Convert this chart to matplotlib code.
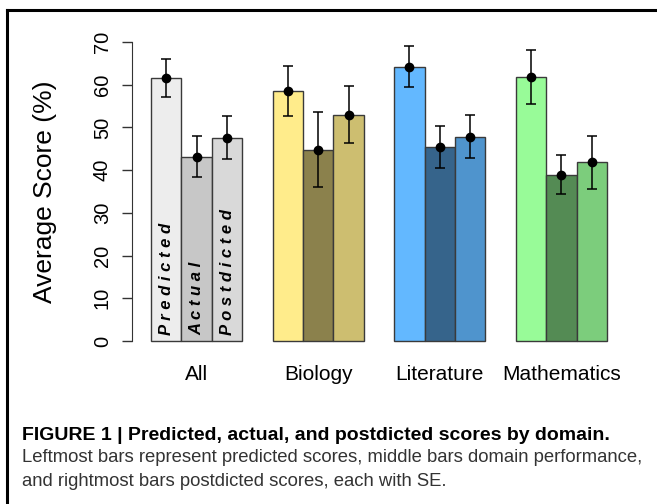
import matplotlib
matplotlib.use("Agg")
import matplotlib.pyplot as plt
from matplotlib.lines import Line2D
import numpy as np

plt.rcParams['font.family'] = ['Liberation Sans', 'DejaVu Sans']

# data
domains = ["All", "Biology", "Literature", "Mathematics"]
kinds = ["Predicted", "Actual", "Postdicted"]
means = [
    [61.6, 43.1, 47.6],   # All
    [58.5, 44.8, 53.0],   # Biology
    [64.2, 45.4, 47.8],   # Literature
    [61.9, 38.9, 41.8],   # Mathematics
]
ses = [
    [4.4, 4.8, 5.0],
    [5.9, 8.8, 6.7],
    [4.8, 4.9, 5.0],
    [6.3, 4.6, 6.1],
]
colors = [
    ["#EDEDED", "#C7C7C7", "#D9D9D9"],
    ["#FFEC8B", "#8B814C", "#CDBE70"],
    ["#63B8FF", "#36648B", "#4F94CD"],
    ["#98FB98", "#548B54", "#7CCD7C"],
]
yticks = [0, 10, 20, 30, 40, 50, 60, 70]

W, H = 657, 504
fig = plt.figure(figsize=(W / 100, H / 100), dpi=100)

def fx(px):
    return px / W

def fy(py):
    return 1 - py / H

# axes placed in pixels: y=0 at 341px, y=70 at 42px, bar unit = 30.4px
unit = 30.4
x0_px = 120.6
ax_left = 132
xmin = (ax_left - x0_px) / unit
xmax = 16.6
ax_w = (xmax - xmin) * unit
ax = fig.add_axes([fx(ax_left), fy(341), ax_w / W, (341 - 42) / H])
ax.set_xlim(xmin, xmax)
ax.set_ylim(0, 70)

for g in range(len(domains)):
    for i in range(3):
        left = 1 + 4 * g + i
        ax.bar(left, means[g][i], width=1, align="edge", color=colors[g][i],
               edgecolor="#3a3a3a", linewidth=1.0, clip_on=False)
        xc = left + 0.5
        ax.errorbar(xc, means[g][i], yerr=ses[g][i], fmt="o", color="black",
                    markersize=6, elinewidth=1.1, capsize=3.4, capthick=1.1,
                    clip_on=False)
    ax.text(1 + 4 * g + 1.5, -0.113, domains[g], transform=ax.get_xaxis_transform(),
            ha="center", va="center", fontsize=15)

# spaced labels inside the "All" bars
for i, k in enumerate(kinds):
    ax.text(1 + i + 0.5, 1.5, " ".join(k), rotation=90, ha="center", va="bottom",
            fontsize=12, fontweight="bold", fontstyle="italic", color="black")

for s in ["top", "right", "bottom"]:
    ax.spines[s].set_visible(False)
ax.spines["left"].set_bounds(0, 70)
ax.spines["left"].set_color("#333333")
ax.set_xticks([])
ax.set_yticks(yticks)
ax.set_yticklabels([str(t) for t in yticks], rotation=90, va="center")
ax.tick_params(axis="y", length=7.5, width=1, color="#333333", labelsize=14.5, pad=7)
ax.set_ylabel("Average Score (%)", fontsize=19)
ax.yaxis.set_label_coords((57 - ax_left) / ax_w, 0.5)

# frame lines (top and left)
fig.add_artist(Line2D([fx(7), 1], [fy(10), fy(10)], color="black", linewidth=2.2))
fig.add_artist(Line2D([fx(7), fx(7)], [fy(10), 0], color="black", linewidth=2.2))

fig.text(fx(22), fy(435), "FIGURE 1 | Predicted, actual, and postdicted scores by domain.",
         fontsize=14, fontweight="bold", va="center", ha="left")
fig.text(fx(22), fy(458), "Leftmost bars represent predicted scores, middle bars domain performance,",
         fontsize=13.3, va="center", ha="left", color="#333333")
fig.text(fx(22), fy(481), "and rightmost bars postdicted scores, each with SE.",
         fontsize=13.3, va="center", ha="left", color="#333333")

fig.savefig("out.png", dpi=100)
